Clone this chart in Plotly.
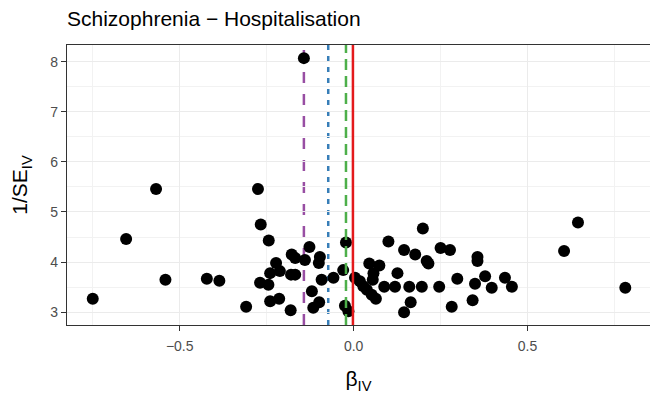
import plotly.graph_objects as go

# Funnel plot: per-variant IV estimate vs precision
beta_iv = [-0.143, -0.568, -0.275, -0.267, 0.645, -0.654, -0.244, -0.022, 0.100, -0.127,
           0.605, 0.199, 0.145, 0.177, 0.250, 0.277, 0.356, 0.356, 0.210, 0.215,
           -0.178, -0.168, -0.140, -0.097, -0.100, -0.223, -0.240, -0.212, -0.168, -0.180,
           -0.269, -0.245, -0.092, -0.058, -0.030, -0.120, -0.309, -0.240, -0.214, -0.181,
           -0.116, -0.099, -0.025, -0.015, 0.004, 0.018, 0.028, 0.038, 0.045, 0.074,
           0.057, 0.055, 0.064, 0.052, 0.088, 0.119, 0.126, 0.160, 0.164, 0.145,
           0.196, 0.246, 0.298, 0.349, 0.378, 0.397, 0.435, 0.455, 0.282, 0.342,
           0.781, -0.750, -0.541, -0.422, -0.386]
inv_se = [8.07, 5.46, 5.46, 4.75, 4.79, 4.46, 4.43, 4.39, 4.41, 4.30,
          4.22, 4.67, 4.24, 4.15, 4.28, 4.24, 4.10, 4.02, 4.02, 3.97,
          4.15, 4.08, 4.04, 4.10, 3.98, 3.98, 3.78, 3.82, 3.75, 3.75,
          3.59, 3.55, 3.65, 3.69, 3.84, 3.42, 3.11, 3.22, 3.27, 3.04,
          3.09, 3.20, 3.13, 3.02, 3.69, 3.62, 3.52, 3.45, 3.97, 3.93,
          3.78, 3.65, 3.27, 3.35, 3.51, 3.51, 3.78, 3.51, 3.20, 3.00,
          3.51, 3.51, 3.67, 3.57, 3.72, 3.49, 3.69, 3.51, 3.11, 3.24,
          3.49, 3.27, 3.65, 3.67, 3.63]

# overall estimates (vertical reference lines)
est_values = [-0.143, -0.073, -0.022, -0.002]
est_colors = ["#984EA3", "#377EB8", "#4DAF4A", "#E41A1C"]
est_dash = ["11px,11px", "5px,6px", "11px,6px", "solid"]
est_layer = ["below", "below", "above", "above"]

fig = go.Figure()
fig.add_trace(go.Scatter(x=beta_iv, y=inv_se, mode="markers",
                         marker=dict(color="black", size=12, line=dict(width=0)),
                         showlegend=False))

for v, c, d, lay in zip(est_values, est_colors, est_dash, est_layer):
    fig.add_shape(type="line", xref="x", yref="paper", x0=v, x1=v, y0=0, y1=1,
                  line=dict(color=c, width=2.5, dash=d), layer=lay)

axis_common = dict(showline=True, mirror=True, linecolor="#333333", linewidth=1.2,
                   ticks="outside", ticklen=5, tickwidth=1.2, tickcolor="#333333",
                   gridcolor="#EBEBEB", gridwidth=1.2, zeroline=False, automargin=False,
                   tickfont=dict(size=14, color="#4D4D4D"),
                   minor=dict(showgrid=True, gridcolor="#F2F2F2", gridwidth=0.6, ticks=""))

fig.update_layout(
    width=650, height=394,
    margin=dict(l=67, r=0, t=45, b=69),
    paper_bgcolor="white", plot_bgcolor="white",
    font=dict(family="Liberation Sans, Arial, sans-serif", color="black"),
    title=dict(text="Schizophrenia \u2212 Hospitalisation", x=67 / 650, xanchor="left",
               xref="container", y=1 - 19 / 394, yanchor="middle", yref="container",
               font=dict(size=21, color="black")),
    xaxis=dict(range=[-0.824, 0.852], tickvals=[-0.5, 0, 0.5],
               ticktext=["\u22120.5", "0.0", "0.5"], ticklabelstandoff=3,
               title=dict(text="\u03b2<sub>IV</sub>", font=dict(size=21), standoff=18),
               **axis_common),
    yaxis=dict(range=[2.745, 8.332], tickvals=[3, 4, 5, 6, 7, 8],
               title=dict(text="1/SE<sub>IV</sub>", font=dict(size=21), standoff=16),
               **axis_common),
)
fig.update_xaxes(minor=dict(tickvals=[-0.75, -0.25, 0.25, 0.75]))
fig.update_yaxes(minor=dict(tickvals=[3.5, 4.5, 5.5, 6.5, 7.5]))

# page body has a default 8px margin; drop it so the figure sits at the window corner
fig.write_html("out.html", config={"displayModeBar": False},
               post_script="document.body.style.margin='0';document.body.style.overflow='hidden';")
